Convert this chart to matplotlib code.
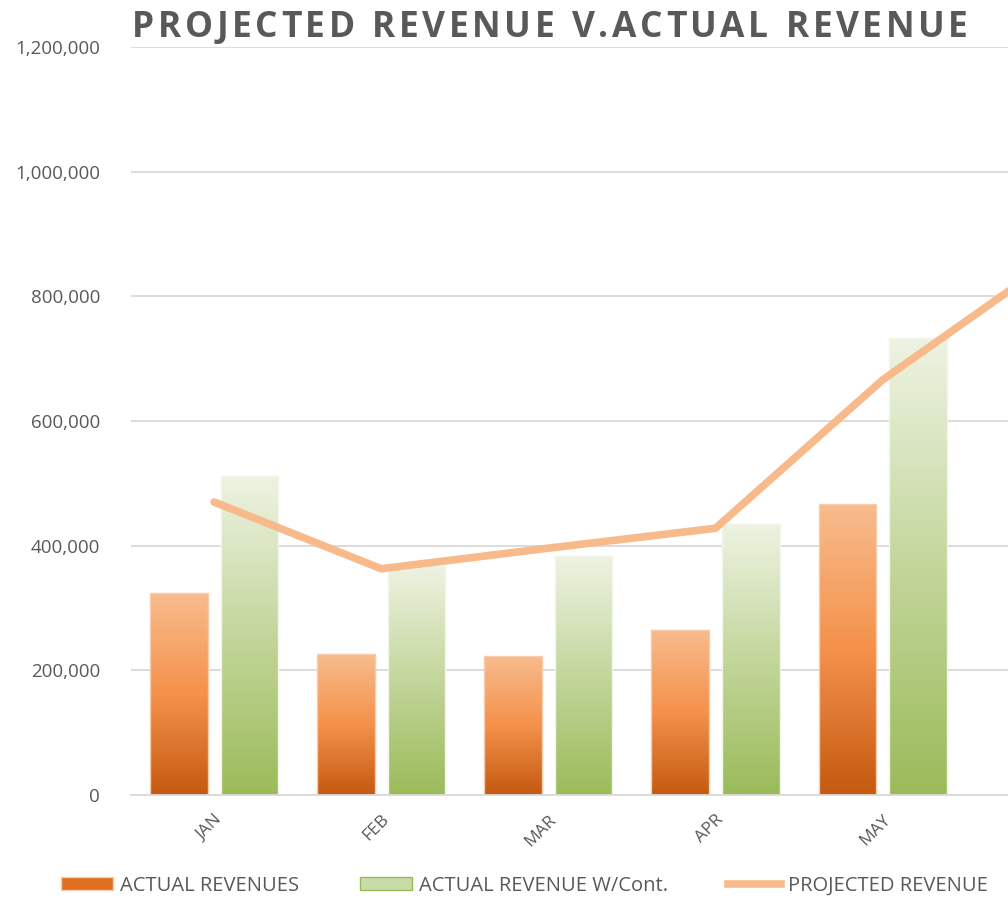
import numpy as np
import matplotlib.pyplot as plt
from matplotlib.colors import LinearSegmentedColormap
from matplotlib.lines import Line2D
from matplotlib.patches import Patch

months = ["JAN", "FEB", "MAR", "APR", "MAY", "JUN"]
actual = [324000, 226000, 223000, 265000, 467000, np.nan]
actual_cont = [512000, 369000, 383000, 435000, 733000, np.nan]
projected = [470000, 363000, 396000, 428000, 666000, 855000]

orange_cmap = LinearSegmentedColormap.from_list("org", ["#C55A11", "#F4914A", "#F8BC8E"])
green_cmap = LinearSegmentedColormap.from_list("grn", ["#9BBB59", "#C3D69B", "#EEF3E3"])

fig = plt.figure(figsize=(10.08, 9.02), dpi=100)
ax = fig.add_axes([0.1295, 0.1186, 1 - 0.1295, 0.8293])

x = np.arange(len(months))
w = 0.345
off = 0.211

def gradient_bars(xs, vals, cmap, edge):
    bars = ax.bar(xs, vals, width=w, facecolor="none", edgecolor=edge, linewidth=1, zorder=2)
    grad = np.linspace(0, 1, 256).reshape(-1, 1)
    for b, v in zip(bars, vals):
        if np.isnan(v):
            continue
        x0 = b.get_x()
        im = ax.imshow(grad, cmap=cmap, origin="lower", aspect="auto",
                       extent=[x0, x0 + b.get_width(), 0, v], zorder=1.9)
        im.set_clip_path(b)

gradient_bars(x - off, actual, orange_cmap, "#F8CBAD")
gradient_bars(x + off, actual_cont, green_cmap, "#F2F6EA")

ax.plot(x, projected, color="#F8BA8A", linewidth=5.5, zorder=3, solid_capstyle="round")

ax.set_ylim(0, 1200000)
ax.set_yticks(np.arange(0, 1200001, 200000))
ax.set_yticklabels([f"{v:,}" for v in range(0, 1200001, 200000)])
ax.yaxis.grid(True, color="#D9D9D9", linewidth=1.3)
ax.set_axisbelow(True)
for s in ["top", "right", "left"]:
    ax.spines[s].set_visible(False)
ax.spines["bottom"].set_color("#D9D9D9")
ax.spines["bottom"].set_linewidth(1.3)
ax.tick_params(axis="both", length=0, labelcolor="#595959")
ax.tick_params(axis="y", pad=22, labelsize=13.5)
ax.set_xticks(x)
ax.set_xticklabels(months, rotation=45, ha="right", rotation_mode="anchor")
ax.tick_params(axis="x", pad=12, labelsize=12.5)
ax.set_xlim(-0.5, 4.75)
for lab in ax.get_xticklabels() + ax.get_yticklabels():
    lab.set_family(["Open Sans", "DejaVu Sans"])

# title with letter spacing
title = "PROJECTED REVENUE V.ACTUAL REVENUE"
renderer = fig.canvas.get_renderer()
tkw = dict(fontsize=25.5, fontweight="bold", color="#595959", family=["Open Sans", "DejaVu Sans"], va="baseline")
chars = []
pos = 0.0
track = 3.6
for ch in title:
    t = fig.text(0, 0, ch, **tkw)
    chars.append((t, pos))
    cw = t.get_window_extent(renderer).width if ch != " " else 10
    pos += cw + track
total = pos - track
start = 550 - total / 2
for t, p in chars:
    t.set_position(((start + p) / 1008, (902 - 37) / 902))

handles = [Patch(facecolor="#E07020", edgecolor="#F8CBAD"),
           Patch(facecolor="#C9DBA6", edgecolor="#9BBB59"),
           Line2D([0], [0], color="#F8BA8A", linewidth=5.5)]
leg = fig.legend(handles, ["ACTUAL REVENUES", "ACTUAL REVENUE W/Cont.", "PROJECTED REVENUE"],
                 loc="center", bbox_to_anchor=(0.52, 0.018), ncol=3, frameon=False,
                 handlelength=2.6, handleheight=0.6, columnspacing=3.0, handletextpad=0.35,
                 prop={"family": ["Open Sans", "DejaVu Sans"], "size": 14.5})
for t in leg.get_texts():
    t.set_color("#595959")

fig.savefig("out.png", dpi=100)
